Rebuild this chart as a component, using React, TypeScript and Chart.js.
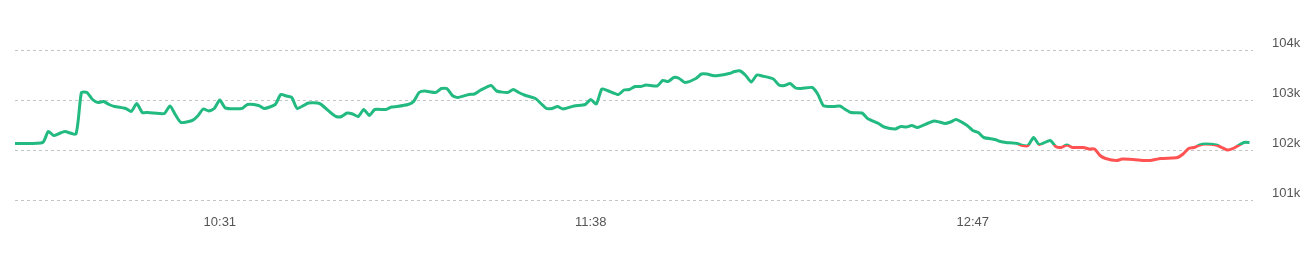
import React, { useEffect, useRef } from "react";
import { Chart, registerables } from "chart.js";

Chart.register(...registerables);

// minutes after midnight for each sample
const times = [
  594, 599, 600, 601, 602, 603, 605, 606, 607, 608, 609, 610, 611, 612, 614, 615, 616, 617, 618, 620,
  621, 622, 623, 624, 626, 627, 628, 629, 630, 631, 632, 635, 636, 638, 639, 641, 642, 643, 644, 645,
  647, 649, 651, 652, 653, 654, 655, 656, 657, 658, 659, 661, 662, 663, 665, 666, 667, 668, 670, 671,
  672, 673, 674, 676, 677, 678, 680, 681, 683, 684, 685, 686, 688, 689, 690, 691, 692, 693, 695, 697,
  698, 699, 700, 701, 703, 704, 705, 706, 707, 708, 710, 711, 712, 713, 714, 715, 717, 718, 719, 720,
  721, 723, 724, 725, 726, 727, 728, 729, 731, 732, 733, 734, 735, 736, 738, 739, 740, 741, 742, 743,
  744, 745, 747, 748, 750, 751, 753, 754, 755, 756, 757, 759, 760, 761, 762, 763, 764, 766, 767, 768,
  769, 771, 772, 773, 775, 776, 777, 778, 779, 781, 782, 783, 784, 785, 787, 788, 789, 790, 791, 793,
  794, 796, 798, 799, 801, 803, 804, 805, 806, 807, 808, 809, 811, 812, 813, 814, 816, 817,
];

const prices = [
  102130, 102150, 102370, 102290, 102330, 102370, 102320, 103150, 103150, 103010, 102950, 102970, 102910, 102870, 102830, 102770, 102930, 102750, 102750, 102730,
  102730, 102880, 102700, 102550, 102590, 102680, 102820, 102780, 102830, 103000, 102840, 102830, 102910, 102890, 102830, 102910, 103110, 103080, 103050, 102830,
  102940, 102930, 102750, 102670, 102670, 102740, 102720, 102670, 102810, 102690, 102810, 102810, 102860, 102870, 102910, 102970, 103150, 103180, 103150, 103230,
  103230, 103090, 103050, 103110, 103120, 103190, 103290, 103180, 103150, 103210, 103150, 103100, 103030, 102930, 102830, 102830, 102870, 102820, 102880, 102910,
  103010, 102920, 103220, 103190, 103110, 103200, 103210, 103270, 103270, 103300, 103280, 103390, 103370, 103450, 103430, 103350, 103430, 103520, 103520, 103490,
  103490, 103530, 103570, 103580, 103490, 103360, 103500, 103480, 103420, 103300, 103290, 103330, 103240, 103230, 103250, 103120, 102890, 102870, 102870, 102880,
  102810, 102750, 102740, 102630, 102530, 102460, 102420, 102470, 102460, 102490, 102450, 102540, 102580, 102560, 102530, 102560, 102610, 102490, 102390, 102350,
  102250, 102210, 102170, 102150, 102130, 102090, 102090, 102250, 102110, 102190, 102070, 102050, 102100, 102050, 102050, 102020, 102020, 101890, 101830, 101790,
  101820, 101810, 101790, 101790, 101830, 101840, 101850, 101920, 102030, 102050, 102100, 102120, 102100, 102050, 102000, 102030, 102150, 102150,
];

const baseline = 102110;
const yTicks = [101000, 102000, 103000, 104000];
const xTicks = [631, 698, 767]; // 10:31, 11:38, 12:47

const GREEN = "rgb(34,186,128)";
const RED = "rgb(255,82,82)";
const FONT = { family: "'Liberation Sans', Arial, sans-serif", size: 13 };

function fmtTime(m: number) {
  const h = Math.floor(m / 60);
  const mm = Math.round(m % 60);
  return `${h}:${mm < 10 ? "0" : ""}${mm}`;
}

export default function App() {
  const ref = useRef<HTMLCanvasElement | null>(null);

  useEffect(() => {
    if (!ref.current) return;
    const data = times.map((t, i) => ({ x: t, y: prices[i] }));
    const chart = new Chart(ref.current, {
      type: "line",
      data: {
        datasets: [
          {
            data,
            borderWidth: 3,
            pointRadius: 0,
            tension: 0.2,
            fill: false,
            borderColor: (ctx: any) => {
              const c = ctx.chart;
              const area = c.chartArea;
              if (!area) return GREEN;
              const y = c.scales.y.getPixelForValue(baseline);
              let f = (y - area.top) / (area.bottom - area.top);
              f = Math.max(0, Math.min(1, f));
              const g = c.ctx.createLinearGradient(0, area.top, 0, area.bottom);
              g.addColorStop(0, GREEN);
              g.addColorStop(f, GREEN);
              g.addColorStop(f, RED);
              g.addColorStop(1, RED);
              return g;
            },
          },
        ],
      },
      options: {
        animation: false,
        responsive: false,
        maintainAspectRatio: false,
        layout: { padding: { left: 15, right: 0, top: 0, bottom: 0 } },
        plugins: { legend: { display: false }, tooltip: { enabled: false } },
        scales: {
          x: {
            type: "linear",
            min: 594,
            max: 817.63,
            grid: { display: false },
            border: { display: false },
            afterBuildTicks: (s: any) => {
              s.ticks = xTicks.map((v) => ({ value: v }));
            },
            afterFit: (s: any) => {
              s.height = 73;
              s.paddingLeft = 0;
              s.paddingRight = 0;
            },
            ticks: {
              autoSkip: false,
              maxRotation: 0,
              padding: 7,
              color: "#555",
              font: FONT,
              callback: (v: any) => fmtTime(Number(v)),
            },
          },
          y: {
            type: "linear",
            position: "right",
            min: 101000,
            max: 105000,
            grid: { color: "#c4c4c4", lineWidth: 1, drawTicks: false },
            border: { display: false, dash: [3, 3] },
            afterBuildTicks: (s: any) => {
              s.ticks = yTicks.map((v) => ({ value: v }));
            },
            afterFit: (s: any) => {
              s.width = 57;
              s.paddingTop = 0;
              s.paddingBottom = 0;
            },
            ticks: {
              padding: 19,
              labelOffset: -7,
              color: "#555",
              font: FONT,
              callback: (v: any) => `${Number(v) / 1000}k`,
            },
          },
        },
      },
    });
    return () => chart.destroy();
  }, []);

  return (
    <div style={{ position: "fixed", left: 0, top: 0, width: 1310, height: 273, background: "#fff" }}>
      <canvas ref={ref} width={1310} height={273} style={{ display: "block", width: 1310, height: 273 }} />
    </div>
  );
}
